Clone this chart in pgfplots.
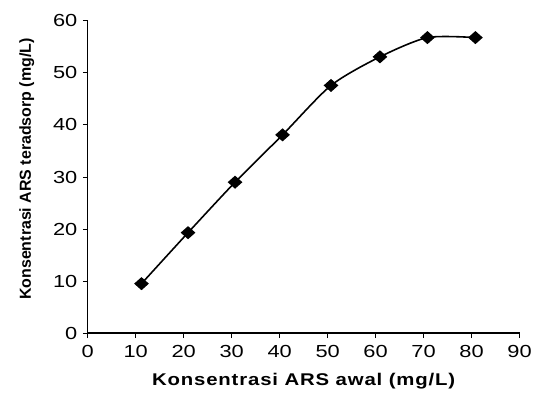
\documentclass[border=0pt]{standalone}
\usepackage{fontspec}
\setmainfont{Liberation Sans}
\newfontfamily\wide[FakeStretch=1.25]{Liberation Sans}
\newfontfamily\widesp[FakeStretch=1.2, LetterSpace=5]{Liberation Sans}
\usepackage{pgfplots}
\pgfplotsset{compat=1.18}

\begin{document}
\begin{tikzpicture}
\begin{axis}[
    at={(0,0)}, anchor=south west,
    scale only axis,
    width=433bp, height=313bp,
    xmin=0, xmax=90, ymin=0, ymax=60,
    xtick={0,10,...,90}, ytick={0,10,...,60},
    axis x line*=bottom, axis y line*=left,
    axis line style={line width=1.2pt},
    tick style={line width=1pt, black},
    tick align=outside,
    major tick length=5bp,
    ticklabel style={font=\wide\fontsize{17.5bp}{19bp}\selectfont},
    /pgf/number format/assume math mode=true,
    xticklabel style={yshift=-4bp},
    yticklabel style={xshift=-2bp},
    xlabel={\widesp\bfseries\fontsize{17bp}{19bp}\selectfont Konsentrasi ARS awal (mg/L)},
    ylabel={\bfseries\fontsize{16bp}{18bp}\selectfont Konsentrasi ARS teradsorp (mg/L)},
    xlabel style={yshift=-8bp},
    ylabel style={yshift=12bp, xshift=8bp},
    clip=false,
]
\addplot[black, line width=1.6pt, smooth, tension=0.45, mark=diamond*,
    mark size=5.5bp, mark options={xscale=1.5, solid}] coordinates {
    (11.2,9.5) (20.9,19.3) (30.7,29.0) (40.6,38.1) (50.7,47.6)
    (60.9,53.1) (70.8,56.8) (80.8,56.8)
};
\end{axis}
\path[use as bounding box] (-88bp,-67bp) rectangle (447bp,334bp);
\end{tikzpicture}
\end{document}
